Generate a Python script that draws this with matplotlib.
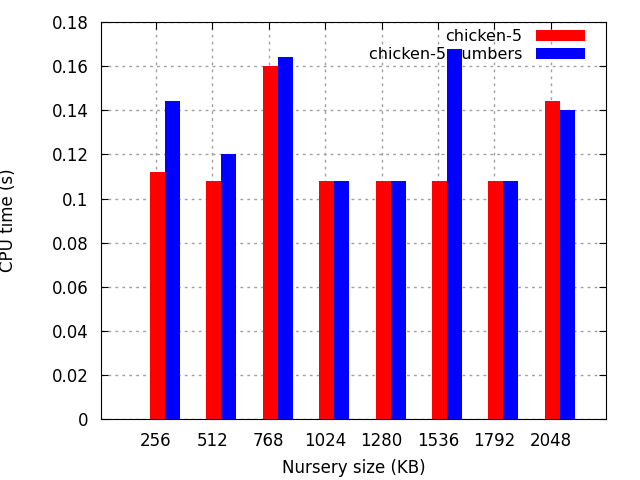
import matplotlib.pyplot as plt
import numpy as np

sizes = ["256", "512", "768", "1024", "1280", "1536", "1792", "2048"]
chicken5 = [0.112, 0.108, 0.160, 0.108, 0.108, 0.108, 0.108, 0.144]
chicken5_numbers = [0.144, 0.120, 0.164, 0.108, 0.108, 0.168, 0.108, 0.140]
yticks = [0, 0.02, 0.04, 0.06, 0.08, 0.1, 0.12, 0.14, 0.16, 0.18]
ytick_labels = ["0", "0.02", "0.04", "0.06", "0.08", "0.1", "0.12", "0.14", "0.16", "0.18"]

fig = plt.figure(figsize=(6.4, 4.8), dpi=100)
ax = fig.add_axes([0.158, 0.127, 0.789, 0.827])

x = np.arange(len(sizes))
w = 0.265
ax.bar(x - w / 2, chicken5, w, color="#ff0000", label="chicken-5", zorder=3)
ax.bar(x + w / 2, chicken5_numbers, w, color="#0000ff", label="chicken-5 numbers", zorder=3)

ax.set_xlim(-1.13, 7.82)
ax.set_ylim(0, 0.18)
ax.set_xticks(x - 0.16)
ax.set_xticklabels(sizes)
ax.set_yticks(yticks)
ax.set_yticklabels(ytick_labels)
ax.tick_params(direction="in", top=True, right=True, length=5, labelsize=12, pad=9)
ax.set_axisbelow(True)
ax.grid(True, color="#a0a0a0", linestyle=(0, (2, 3)), linewidth=1)

ax.set_xlabel("Nursery size (KB)", fontsize=12)
ax.set_ylabel("CPU time (s)", fontsize=12)
ax.xaxis.set_label_coords(0.5, -0.1)
ax.yaxis.set_label_coords(-0.166, 0.5)

leg = ax.legend(loc="upper right", frameon=False, markerfirst=False, fontsize=11.5,
                handlelength=3.1, handleheight=0.65, handletextpad=0.85,
                labelspacing=0.18, borderaxespad=0.3,
                bbox_to_anchor=(0.981, 1.01))
leg.set_zorder(2)

fig.savefig("out.png", dpi=100)
